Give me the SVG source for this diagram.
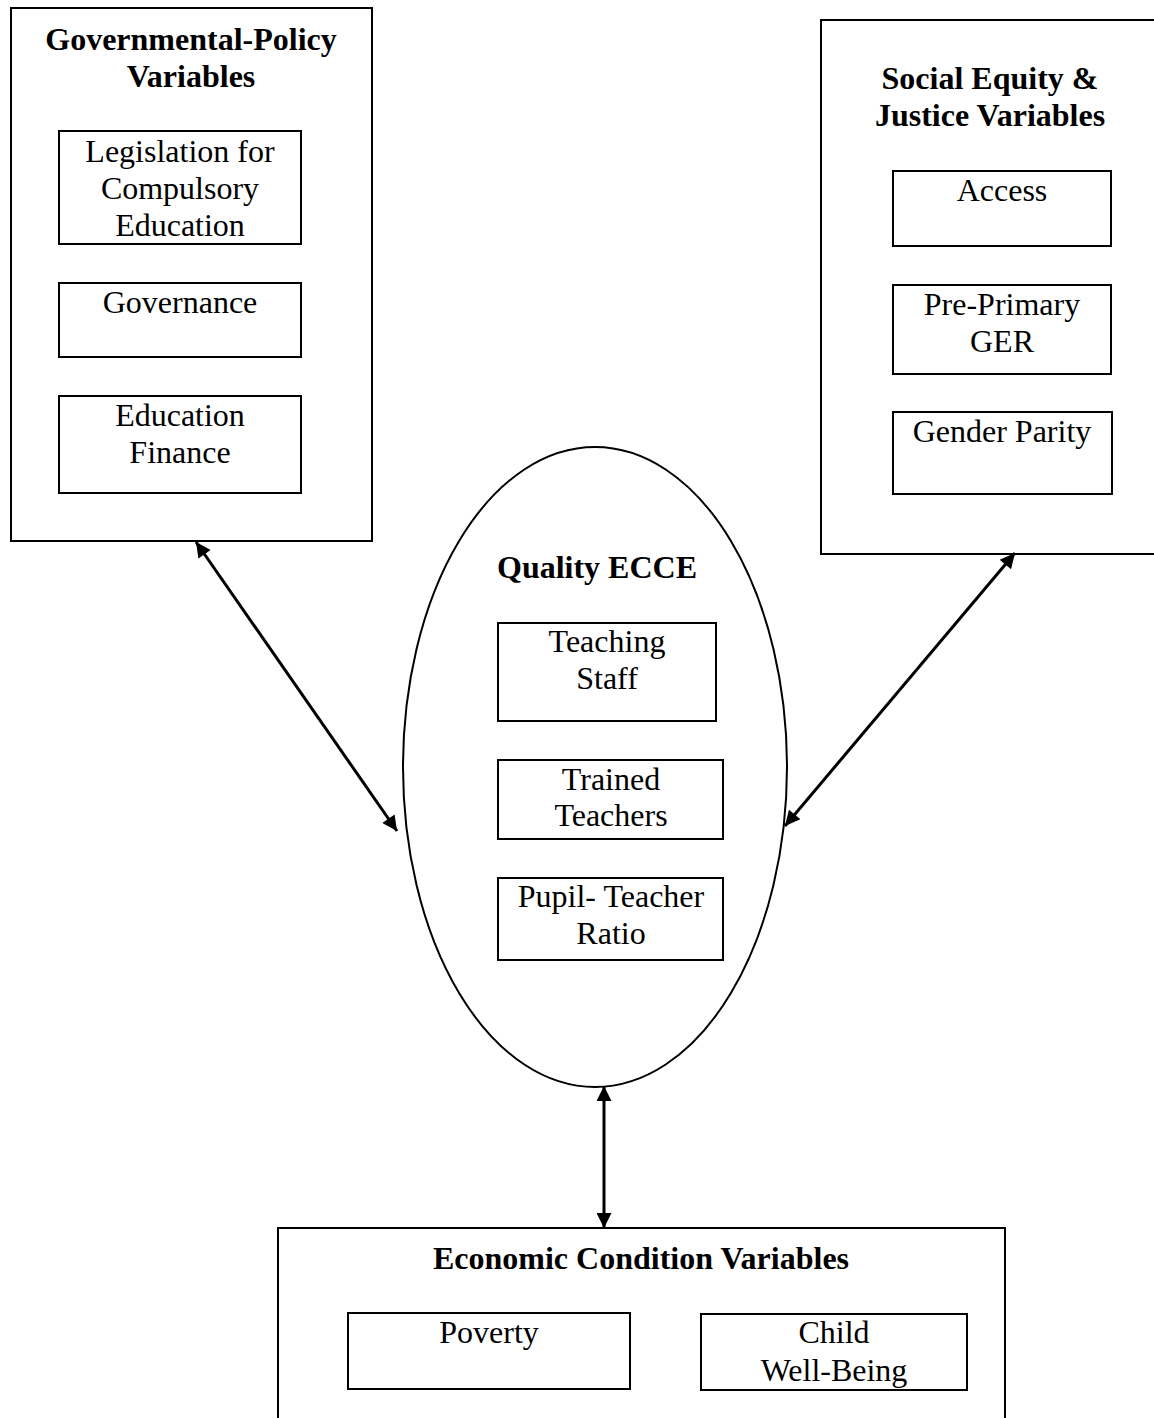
<svg xmlns="http://www.w3.org/2000/svg" width="1154" height="1418" viewBox="0 0 1154 1418">
<defs>
<style>
.box{fill:none;stroke:#000;stroke-width:2}
.t{font-family:"Liberation Serif","Times New Roman",serif;font-size:32px;fill:#000;text-anchor:middle}
.b{font-weight:bold}
.c{stroke:#000;stroke-width:3;fill:none}
</style>
<marker id="ah" viewBox="0 0 10 10" refX="10" refY="5" markerWidth="6" markerHeight="5" markerUnits="strokeWidth" orient="auto-start-reverse">
<path d="M0,0 L10,5 L0,10 z" fill="#000"/>
</marker>
</defs>
<rect width="1154" height="1418" fill="#fff"/>
<g id="gov">
<rect class="box" x="11" y="8" width="361" height="533"/>
<text class="t b" x="191" y="50">Governmental-Policy</text>
<text class="t b" x="191" y="87">Variables</text>
<g id="legislation">
<rect class="box" x="59" y="131" width="242" height="113"/>
<text class="t" x="180" y="162">Legislation for</text>
<text class="t" x="180" y="199">Compulsory</text>
<text class="t" x="180" y="236">Education</text>
</g>
<g id="governance">
<rect class="box" x="59" y="283" width="242" height="74"/>
<text class="t" x="180" y="313">Governance</text>
</g>
<g id="finance">
<rect class="box" x="59" y="396" width="242" height="97"/>
<text class="t" x="180" y="426">Education</text>
<text class="t" x="180" y="463">Finance</text>
</g>
</g>
<g id="equity">
<rect class="box" x="821" y="20" width="340" height="534"/>
<text class="t b" x="990" y="89">Social Equity &amp;</text>
<text class="t b" x="990" y="126">Justice Variables</text>
<g id="access">
<rect class="box" x="893" y="171" width="218" height="75"/>
<text class="t" x="1002" y="201">Access</text>
</g>
<g id="ger">
<rect class="box" x="893" y="285" width="218" height="89"/>
<text class="t" x="1002" y="315">Pre-Primary</text>
<text class="t" x="1002" y="352">GER</text>
</g>
<g id="gender">
<rect class="box" x="893" y="412" width="219" height="82"/>
<text class="t" x="1002" y="442">Gender Parity</text>
</g>
</g>
<g id="ecce">
<ellipse class="box" cx="595" cy="767" rx="192" ry="320"/>
<text class="t b" x="597" y="578">Quality ECCE</text>
<g id="staff">
<rect class="box" x="498" y="623" width="218" height="98"/>
<text class="t" x="607" y="652">Teaching</text>
<text class="t" x="607" y="689">Staff</text>
</g>
<g id="trained">
<rect class="box" x="498" y="760" width="225" height="79"/>
<text class="t" x="611" y="790">Trained</text>
<text class="t" x="611" y="826">Teachers</text>
</g>
<g id="ptr">
<rect class="box" x="498" y="878" width="225" height="82"/>
<text class="t" x="611" y="907">Pupil- Teacher</text>
<text class="t" x="611" y="944">Ratio</text>
</g>
</g>
<g id="economic">
<rect class="box" x="278" y="1228" width="727" height="200"/>
<text class="t b" x="641" y="1269">Economic Condition Variables</text>
<g id="poverty">
<rect class="box" x="348" y="1313" width="282" height="76"/>
<text class="t" x="489" y="1343">Poverty</text>
</g>
<g id="wellbeing">
<rect class="box" x="701" y="1314" width="266" height="76"/>
<text class="t" x="834" y="1343">Child</text>
<text class="t" x="834" y="1381">Well-Being</text>
</g>
</g>
<g id="connectors">
<line class="c" x1="196" y1="542" x2="397" y2="831" marker-start="url(#ah)" marker-end="url(#ah)"/>
<line class="c" x1="1015" y1="553" x2="785" y2="826" marker-start="url(#ah)" marker-end="url(#ah)"/>
<line class="c" x1="604" y1="1086" x2="604" y2="1228" marker-start="url(#ah)" marker-end="url(#ah)"/>
</g>
</svg>
